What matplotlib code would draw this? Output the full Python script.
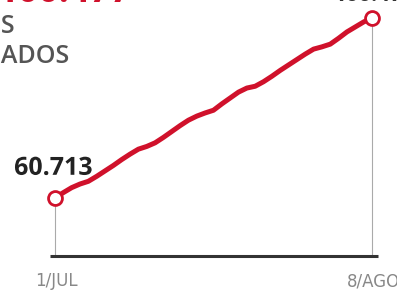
import matplotlib.pyplot as plt
import matplotlib.patheffects as pe

# daily cumulative values (thousands), 1/JUL .. 8/AGO
days = list(range(39))
values = [60.713, 61.9, 63.0, 63.8, 64.4, 65.5, 66.7, 67.9, 69.2, 70.4,
          71.5, 72.1, 72.9, 74.1, 75.4, 76.7, 77.9, 78.8, 79.5, 80.1,
          81.5, 82.8, 84.1, 85.0, 85.4, 86.4, 87.6, 88.9, 90.1, 91.3,
          92.5, 93.6, 94.1, 94.7, 96.0, 97.4, 98.5, 99.6, 100.477]
xlabels = ["1/JUL", "8/AGO"]
first_label = "60.713"
last_label = "100.477"
title_lines = ["MUERTES", "CONFIRMADOS"]

red = "#d0112b"

fig = plt.figure(figsize=(3.97, 2.91), dpi=100)
ax = fig.add_axes([0, 0, 1, 1])
ax.set_xlim(-6.59, 41.0)
ax.set_ylim(40.17, 104.45)
ax.axis("off")

base = 47.9
ax.hlines(base, -0.6, 38.7, color="#333333", lw=2.2, zorder=2)
ax.vlines([days[0], days[-1]], base, [values[0], values[-1]], color="#aaaaaa", lw=0.8, zorder=1)

ax.plot(days, values, color=red, lw=3.6, solid_capstyle="round", zorder=3)
ax.plot([days[0], days[-1]], [values[0], values[-1]], "o", ms=10, mfc="white",
        mec=red, mew=2, zorder=4)

t = ax.text(days[0] - 4.9, values[0] + 3.8, first_label, fontsize=18, fontweight="bold",
            family="Open Sans", color="#222222", va="bottom", ha="left", zorder=5)
t.set_path_effects([pe.withStroke(linewidth=2, foreground="white")])

lab_font = ["Liberation Sans Narrow", "DejaVu Sans"]
ax.text(days[0] + 0.2, 44.3, xlabels[0], fontsize=12, family=lab_font,
        color="#888888", ha="center", va="top")
ax.text(days[-1] + 0.2, 44.3, xlabels[1], fontsize=12, family=lab_font,
        color="#888888", ha="center", va="top")

# cut-off texts at the top of the crop
ax.text(days[-1] + 0.3, 104.2, last_label, fontsize=16, fontweight="bold",
        family="Open Sans", color="#333333", ha="center", va="baseline")
ax.text(-6.9, 103.95, "100.477", fontsize=26, fontweight="bold",
        family="Open Sans", color=red, ha="left", va="baseline")
ax.text(-4.8, 97.1, title_lines[0], fontsize=18, fontweight="semibold", family="Open Sans",
        color="#555555", ha="right", va="baseline")
ax.text(1.8, 90.5, title_lines[1], fontsize=18, fontweight="semibold", family="Open Sans",
        color="#555555", ha="right", va="baseline")

fig.savefig("out.png", dpi=100)
